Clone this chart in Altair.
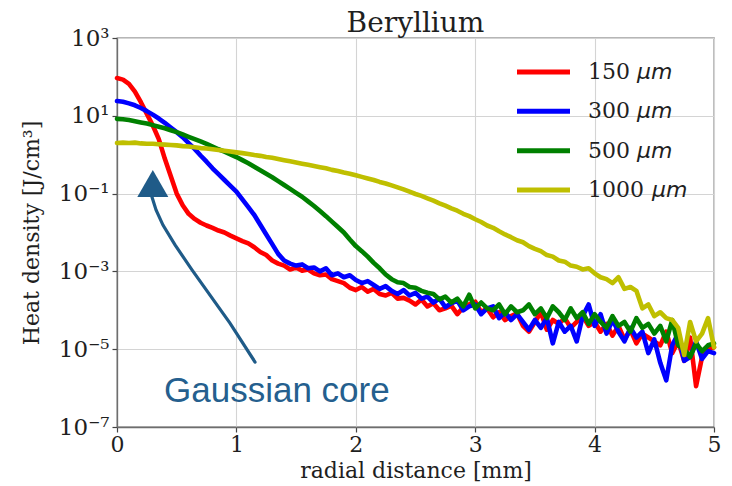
import altair as alt
import pandas as pd

# radial distance samples [mm]
x_mm = [0.00, 0.05, 0.10, 0.15, 0.20, 0.25, 0.30, 0.35, 0.40, 0.45,
        0.50, 0.55, 0.60, 0.65, 0.70, 0.75, 0.80, 0.85, 0.90, 0.95,
        1.00, 1.05, 1.10, 1.15, 1.20, 1.25, 1.30, 1.35, 1.40, 1.45,
        1.50, 1.55, 1.60, 1.65, 1.70, 1.75, 1.80, 1.85, 1.90, 1.95,
        2.00, 2.05, 2.10, 2.15, 2.20, 2.25, 2.30, 2.35, 2.40, 2.45,
        2.50, 2.55, 2.60, 2.65, 2.70, 2.75, 2.80, 2.85, 2.90, 2.95,
        3.00, 3.05, 3.10, 3.15, 3.20, 3.25, 3.30, 3.35, 3.40, 3.45,
        3.50, 3.55, 3.60, 3.65, 3.70, 3.75, 3.80, 3.85, 3.90, 3.95,
        4.00, 4.05, 4.10, 4.15, 4.20, 4.25, 4.30, 4.35, 4.40, 4.45,
        4.50, 4.55, 4.60, 4.65, 4.70, 4.75, 4.80, 4.85, 4.90, 4.95,
        5.00]

# log10 of heat density [J/cm^3]
log_150 = [1.97, 1.93, 1.82, 1.62, 1.35, 1.05, 0.75, 0.40, -0.10, -0.55,
           -1.00, -1.30, -1.52, -1.65, -1.75, -1.82, -1.88, -1.95, -2.00, -2.08,
           -2.15, -2.22, -2.28, -2.38, -2.50, -2.58, -2.72, -2.80, -2.85, -2.95,
           -2.90, -2.98, -2.95, -3.05, -3.10, -3.08, -3.20, -3.25, -3.30, -3.42,
           -3.48, -3.40, -3.52, -3.45, -3.58, -3.62, -3.55, -3.70, -3.68, -3.75,
           -3.85, -3.72, -3.90, -3.82, -4.00, -3.95, -3.88, -4.10, -3.92, -3.85,
           -3.78, -4.05, -3.95, -4.18, -4.05, -4.25, -4.15, -4.08, -4.40, -4.55,
           -4.30, -4.05, -4.50, -4.25, -4.35, -4.20, -4.45, -4.30, -4.15, -4.40,
           -4.30, -4.55, -4.35, -4.65, -4.40, -4.75, -4.50, -4.85, -4.60, -4.70,
           -4.80, -4.90, -4.55, -5.10, -4.80, -5.30, -4.70, -5.95, -5.20, -5.00,
           -4.95]
log_300 = [1.38, 1.36, 1.32, 1.27, 1.20, 1.12, 1.03, 0.93, 0.82, 0.70,
           0.58, 0.45, 0.30, 0.15, -0.02, -0.18, -0.35, -0.50, -0.65, -0.80,
           -0.95, -1.15, -1.35, -1.55, -1.80, -2.05, -2.30, -2.55, -2.72, -2.80,
           -2.85, -2.82, -2.92, -2.90, -3.00, -2.92, -3.10, -3.05, -3.15, -3.10,
           -3.22, -3.30, -3.25, -3.35, -3.45, -3.38, -3.50, -3.58, -3.48, -3.62,
           -3.55, -3.70, -3.65, -3.80, -3.70, -3.92, -3.82, -3.75, -4.00, -3.90,
           -3.85, -4.10, -3.95, -3.90, -4.20, -4.05, -4.25, -4.10, -4.30, -4.50,
           -4.25, -4.45, -4.20, -4.85, -4.30, -4.55, -4.40, -4.80, -4.15, -3.85,
           -4.40, -4.10, -4.60, -4.25, -4.55, -4.80, -4.45, -4.70, -4.55, -5.10,
           -4.75, -5.35, -5.80, -4.90, -4.60, -5.30, -5.20, -4.80, -5.25, -5.05,
           -5.10]
log_500 = [0.92, 0.91, 0.89, 0.86, 0.83, 0.80, 0.76, 0.72, 0.68, 0.63,
           0.58, 0.52, 0.46, 0.40, 0.34, 0.28, 0.21, 0.14, 0.08, 0.01,
           -0.06, -0.14, -0.22, -0.31, -0.40, -0.49, -0.58, -0.68, -0.78, -0.88,
           -0.98, -1.08, -1.20, -1.32, -1.45, -1.58, -1.72, -1.86, -2.00, -2.18,
           -2.35, -2.48, -2.62, -2.78, -2.92, -3.08, -3.20, -3.28, -3.30, -3.40,
           -3.42, -3.50, -3.55, -3.58, -3.72, -3.65, -3.80, -3.70, -3.90, -3.60,
           -3.95, -3.80, -3.95, -4.00, -3.85, -4.10, -3.90, -4.05, -4.00, -3.85,
           -4.10, -3.95, -4.20, -3.90, -4.05, -4.25, -3.95, -4.20, -4.05, -4.35,
           -4.10, -4.30, -4.45, -4.15, -4.40, -4.30, -4.55, -4.20, -4.45, -4.35,
           -4.60, -4.40, -4.80, -4.25, -4.90, -5.00, -5.20, -4.85, -5.05, -4.90,
           -4.85]
log_1000 = [0.30, 0.31, 0.30, 0.31, 0.29, 0.28, 0.28, 0.27, 0.26, 0.25,
            0.24, 0.22, 0.21, 0.19, 0.17, 0.16, 0.14, 0.12, 0.10, 0.08,
            0.06, 0.04, 0.02, -0.01, -0.03, -0.06, -0.08, -0.11, -0.14, -0.17,
            -0.20, -0.23, -0.26, -0.29, -0.32, -0.35, -0.39, -0.42, -0.46, -0.49,
            -0.53, -0.57, -0.61, -0.65, -0.70, -0.74, -0.79, -0.84, -0.89, -0.95,
            -1.01, -1.06, -1.12, -1.18, -1.25, -1.31, -1.38, -1.44, -1.52, -1.58,
            -1.66, -1.73, -1.82, -1.88, -1.97, -2.05, -2.12, -2.20, -2.25, -2.35,
            -2.42, -2.48, -2.58, -2.62, -2.72, -2.75, -2.85, -2.88, -2.95, -2.92,
            -3.05, -3.15, -3.20, -3.30, -3.15, -3.45, -3.40, -3.50, -3.95, -3.85,
            -4.15, -4.05, -4.20, -4.25, -4.45, -5.15, -4.30, -4.80, -4.60, -4.20,
            -4.95]

labels = ["150", "300", "500", "1000"]
series_logs = [log_150, log_300, log_500, log_1000]
colors = ["#ff0000", "#0000ff", "#008000", "#bfbf00"]

# Annotation arrow path ("Gaussian core"), in data units
arrow_x = [1.156, 0.946, 0.628, 0.486, 0.385, 0.327, 0.293]
arrow_log = [-5.33, -4.33, -2.96, -2.32, -1.81, -1.42, -1.09]
arrow_head_x = [0.30]
arrow_head_log = [-0.74]

SERIF = "DejaVu Serif"
INK = "#1f1f1f"
ANNOT = "#1f5b88"

rows = []
for lab, logs in zip(labels, series_logs):
    for xv, lv in zip(x_mm, logs):
        rows.append({"x": xv, "y": 10 ** lv, "series": lab})
df = pd.DataFrame(rows)

arrow_df = pd.DataFrame({"i": list(range(len(arrow_x))), "x": arrow_x,
                         "y": [10 ** v for v in arrow_log]})
head_df = pd.DataFrame({"x": arrow_head_x, "y": [10 ** v for v in arrow_head_log]})
one = pd.DataFrame({"a": [0]})
leg_df = pd.DataFrame({"idx": list(range(len(labels))), "label": labels})

xscale = alt.Scale(domain=[0, 5], nice=False)
yscale = alt.Scale(type="log", domain=[1e-7, 1e3], nice=False)

sup_expr = ("{'3':'10³','1':'10¹','-1':'10⁻¹','-3':'10⁻³','-5':'10⁻⁵','-7':'10⁻⁷'}"
            "['' + round(log(datum.value)/LN10)]")

lines = alt.Chart(df).mark_line(strokeWidth=4.6, strokeJoin="round", strokeCap="round").encode(
    x=alt.X("x:Q", scale=xscale,
            axis=alt.Axis(values=[0, 1, 2, 3, 4, 5], format="d", labelFlush=False,
                          labelFontSize=22, labelPadding=2,
                          title="radial distance [mm]", titleY=50,
                          titleBaseline="alphabetic")),
    y=alt.Y("y:Q", scale=yscale,
            axis=alt.Axis(values=[1e-7, 1e-5, 1e-3, 1e-1, 1e1, 1e3], labelFlush=False,
                          labelExpr=sup_expr, title="Heat density [J/cm³]",
                          titleX=-79, titleBaseline="alphabetic")),
    color=alt.Color("series:N", scale=alt.Scale(domain=labels, range=colors),
                    legend=None),
)

arrow = alt.Chart(arrow_df).mark_line(strokeWidth=3.2, color=ANNOT, strokeCap="round").encode(
    x=alt.X("x:Q", scale=xscale), y=alt.Y("y:Q", scale=yscale), order="i:Q")
head = alt.Chart(head_df).mark_point(shape="triangle-up", size=961, filled=True,
                                     opacity=1, color=ANNOT).encode(
    x=alt.X("x:Q", scale=xscale), y=alt.Y("y:Q", scale=yscale))
core_text = alt.Chart(one).mark_text(align="left", baseline="alphabetic",
                                     font="Liberation Sans", fontSize=35,
                                     color="#255f8e").encode(
    x=alt.value(47), y=alt.value(364), text=alt.value("Gaussian core"))
title_text = alt.Chart(one).mark_text(align="center", baseline="alphabetic",
                                      font=SERIF, fontSize=28, color=INK).encode(
    x=alt.value(298.5), y=alt.value(-6), text=alt.value("Beryllium"))

leg_y = alt.Y("idx:Q", scale=alt.Scale(domain=[0, 3], range=[34, 152]), axis=None)
leg_color = alt.Color("label:N", scale=alt.Scale(domain=labels, range=colors), legend=None)
leg_rule = alt.Chart(leg_df).mark_rule(strokeWidth=5).encode(
    x=alt.value(400), x2=alt.value(453), y=leg_y, color=leg_color)
leg_num = alt.Chart(leg_df).mark_text(align="left", baseline="middle", font=SERIF,
                                      fontSize=22, color=INK).encode(
    x=alt.value(471), y=leg_y, text="label:N")
leg_mu3 = alt.Chart(leg_df).transform_filter("length(datum.label) == 3").mark_text(
    align="left", baseline="middle", font="DejaVu Sans", fontStyle="italic",
    fontSize=22, color=INK).encode(x=alt.value(520), y=leg_y, text=alt.value("μm"))
leg_mu4 = alt.Chart(leg_df).transform_filter("length(datum.label) == 4").mark_text(
    align="left", baseline="middle", font="DejaVu Sans", fontStyle="italic",
    fontSize=22, color=INK).encode(x=alt.value(535), y=leg_y, text=alt.value("μm"))

main = alt.layer(lines, arrow, head, core_text, title_text)
legend = alt.layer(leg_rule, leg_num, leg_mu3, leg_mu4)

chart = alt.layer(main, legend).resolve_scale(y="independent", color="independent").properties(
    width=597, height=389,
    autosize=alt.AutoSizeParams(type="none"),
    padding={"left": 117, "top": 38, "right": 18, "bottom": 59},
).configure_view(stroke="#6e6e6e", strokeWidth=1.3).configure_axis(
    labelFont=SERIF, labelFontSize=23, labelColor=INK,
    titleFont=SERIF, titleFontSize=22, titleColor=INK, titleFontWeight="normal",
    tickSize=5, tickColor="#444444", tickWidth=1.2,
    domainColor="#6e6e6e", domainWidth=1.3,
    gridColor="#d4d4d4", gridWidth=1.1, labelPadding=3,
)

chart.save("out.html", embed_options={"renderer": "svg", "actions": False})
